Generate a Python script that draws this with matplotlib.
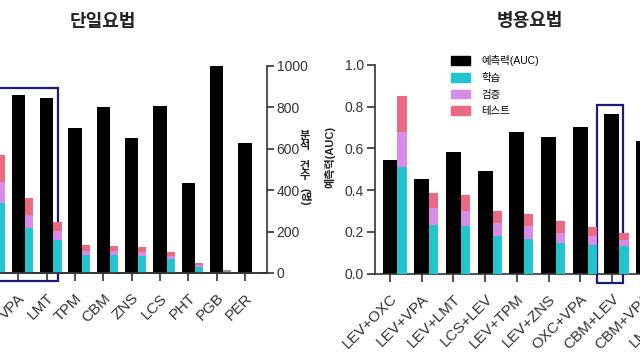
import matplotlib
matplotlib.use("Agg")
import matplotlib.pyplot as plt
from matplotlib.patches import Rectangle, Patch
import numpy as np

plt.rcParams['font.family'] = ['Liberation Sans', 'Noto Sans CJK KR', 'DejaVu Sans']

# ---------------- data ----------------
mono_labels = ["LEV", "VPA", "LMT", "TPM", "CBM", "ZNS", "LCS", "PHT", "PGB", "PER"]
mono_auc = [0.85, 0.86, 0.845, 0.70, 0.80, 0.654, 0.807, 0.433, 1.0, 0.627]
mono_train = [338, 217, 160, 87, 85, 82, 68, 30, 9, 3]
mono_valid = [100, 63, 45, 20, 20, 20, 15, 8, 2, 1]
mono_test = [132, 82, 41, 28, 25, 25, 20, 9, 3, 1]

combo_labels = ["LEV+OXC", "LEV+VPA", "LEV+LMT", "LCS+LEV", "LEV+TPM", "LEV+ZNS",
                "OXC+VPA", "CBM+LEV", "CBM+VPA", "LMT+VPA"]
combo_auc = [0.545, 0.455, 0.585, 0.49, 0.68, 0.655, 0.703, 0.765, 0.636, 0.60]
combo_train = [512, 234, 226, 178, 166, 147, 139, 131, 120, 110]
combo_valid = [168, 80, 72, 64, 60, 48, 39, 32, 30, 28]
combo_test = [171, 72, 80, 56, 59, 55, 47, 33, 30, 28]

legend_labels = ["예측력(AUC)", "학습", "검증", "테스트"]

C_BLACK = "#000000"
C_CYAN = "#22C4CF"
C_VIOLET = "#D68CE8"
C_PINK = "#EC6A80"
C_BOX = "#1C1C78"
C_AX = "#333333"

W_B = 0.47
W_C = 0.29

fig = plt.figure(figsize=(6.4, 3.6), dpi=100)

def style_axis(ax):
    for s in ["top"]:
        ax.spines[s].set_visible(False)
    for s in ax.spines.values():
        s.set_color(C_AX)
        s.set_linewidth(1.2)
    ax.tick_params(colors=C_AX, width=1.2, length=5, labelsize=10)

def draw_panel(ax, labels, auc, tr, va, te):
    x = np.arange(len(labels))
    ax.bar(x, auc, width=W_B, color=C_BLACK, align='center', zorder=2)
    axc = ax.twinx()
    xe = x + W_B / 2
    tr = np.array(tr); va = np.array(va); te = np.array(te)
    axc.bar(xe, tr, width=W_C, color=C_CYAN, align='edge', zorder=2)
    axc.bar(xe, va, bottom=tr, width=W_C, color=C_VIOLET, align='edge', zorder=2)
    axc.bar(xe, te, bottom=tr + va, width=W_C, color=C_PINK, align='edge', zorder=2)
    axc.set_ylim(0, 1000)
    ax.set_ylim(0, 1.0)
    ax.set_xticks(x)
    ax.set_xticklabels(labels, rotation=45, ha='right', rotation_mode='anchor',
                       fontsize=11, color=C_AX)
    ax.tick_params(axis='x', length=6, pad=7)
    return axc

# ---------------- left panel (mono) ----------------
sp_l = 28.34
x0_l = -10.0
xmin_l, xmax_l = -0.6, 9.78
left_px = x0_l + xmin_l * sp_l
right_px = 267
axL = fig.add_axes([left_px / 640, 1 - 273 / 360, (right_px - left_px) / 640, (273 - 66) / 360])
style_axis(axL)
axLc = draw_panel(axL, mono_labels, mono_auc, mono_train, mono_valid, mono_test)
axL.set_xlim(xmin_l, xmax_l)
axL.spines['right'].set_visible(False)
axLc.spines['top'].set_visible(False)
axLc.spines['left'].set_visible(False)
style_axis(axLc)
axLc.spines['left'].set_visible(False)
axLc.set_yticks([0, 200, 400, 600, 800, 1000])
axLc.tick_params(axis='y', length=5, pad=2, labelsize=10)
axL.add_patch(Rectangle((-0.6, -0.039), 2.41 + 0.6, 0.894 + 0.039, fill=False,
                        edgecolor=C_BOX, lw=1.6, clip_on=False, zorder=5))
fig.text(103 / 640, 1 - 22 / 360, "단일요법", ha='center', va='center', fontsize=13,
         fontweight='bold', color='#222222')
fig.text(305 / 640, 1 - 141 / 360, "분\n석", ha='center', va='center', fontsize=8,
         linespacing=1.0, color='#222222', fontweight='bold')
fig.text(305 / 640, 1 - 171 / 360, "건\n수", ha='center', va='center', fontsize=8,
         linespacing=1.0, color='#222222', fontweight='bold')
fig.text(305 / 640, 1 - 197 / 360, "(명)", ha='center', va='center', fontsize=8,
         rotation=270, color='#222222', fontweight='bold')

# ---------------- right panel (combo) ----------------
sp_r = 31.7
x0_r = 390.0
xmin_r, xmax_r = -0.47, 9.6
l_px = x0_r + xmin_r * sp_r
r_px = x0_r + xmax_r * sp_r
axR = fig.add_axes([l_px / 640, 1 - 273.5 / 360, (r_px - l_px) / 640, (273.5 - 65) / 360])
style_axis(axR)
axRc = draw_panel(axR, combo_labels, combo_auc, combo_train, combo_valid, combo_test)
axR.set_xlim(xmin_r, xmax_r)
axR.spines['right'].set_visible(False)
axRc.axis('off')
axR.set_yticks([0, 0.2, 0.4, 0.6, 0.8, 1.0])
axR.set_yticklabels(["0.0", "0.2", "0.4", "0.6", "0.8", "1.0"])
axR.tick_params(axis='y', length=6, pad=2, labelsize=10)
axR.add_patch(Rectangle((7 - 0.47, -0.045), 0.82, 0.81 + 0.045, fill=False,
                        edgecolor=C_BOX, lw=1.6, clip_on=False, zorder=5))
fig.text(530 / 640, 1 - 22 / 360, "병용요법", ha='center', va='center', fontsize=13,
         fontweight='bold', color='#222222')
fig.text(330 / 640, 1 - 157 / 360, "예측력(AUC)", ha='center', va='center', fontsize=8,
         rotation=90, color='#222222', fontweight='bold')

handles = [Patch(color=c) for c in [C_BLACK, C_CYAN, C_VIOLET, C_PINK]]
fig.legend(handles, legend_labels, loc='upper left', bbox_to_anchor=(451 / 640, 1 - 55 / 360),
           frameon=False, fontsize=7.5, handlelength=1.8, handleheight=0.9,
           labelspacing=0.65, handletextpad=1.1, borderaxespad=0, borderpad=0)

fig.savefig("out.png", dpi=100)
